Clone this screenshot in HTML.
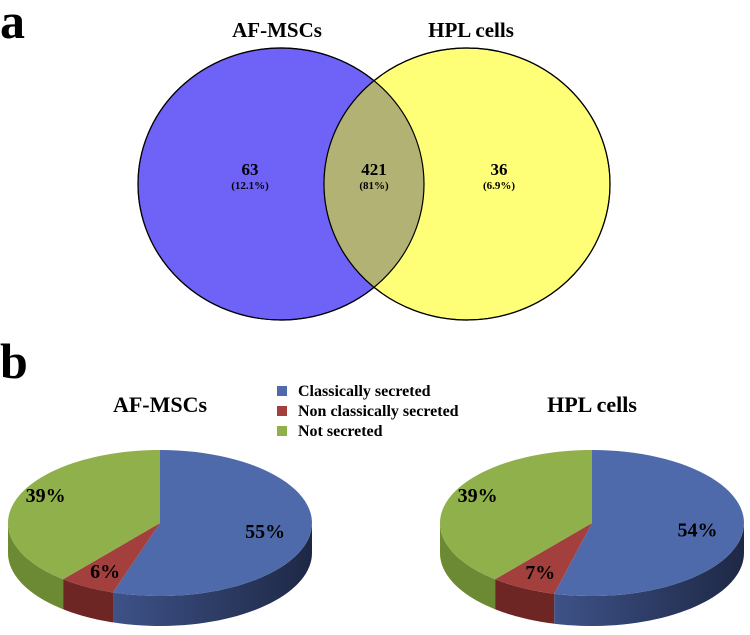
<!DOCTYPE html>
<html><head><meta charset="utf-8"><style>
body{margin:0;background:#fff}
svg{display:block;font-family:"Liberation Serif",serif;font-weight:bold}
</style></head><body>
<svg id="fig" width="750" height="635" viewBox="0 0 750 635">
<defs>
<linearGradient id="gb" x1="0" x2="1" y1="0" y2="0"><stop offset="0" stop-color="#3e5288"/><stop offset="1" stop-color="#1e2845"/></linearGradient>
</defs>
<text x="0" y="38" font-size="50">a</text>
<text x="0" y="378" font-size="50">b</text>
<g id="venn">
<ellipse cx="281" cy="184" rx="143" ry="136" fill="#6f62f7" stroke="#000" stroke-width="1.2"/>
<ellipse cx="467" cy="184" rx="143" ry="136" fill="#ffff77" stroke="#000" stroke-width="1.2"/>
<clipPath id="cl"><ellipse cx="281" cy="184" rx="143" ry="136"/></clipPath>
<ellipse cx="467" cy="184" rx="143" ry="136" fill="#b2b274" clip-path="url(#cl)"/>
<ellipse cx="281" cy="184" rx="143" ry="136" fill="none" stroke="#000" stroke-width="1.2"/>
<ellipse cx="467" cy="184" rx="143" ry="136" fill="none" stroke="#000" stroke-width="1.2"/>
<text x="277" y="37" font-size="21" text-anchor="middle">AF-MSCs</text>
<text x="471" y="37" font-size="21" text-anchor="middle">HPL cells</text>
</g>
<g id="legend"></g>
</svg>
<script>
const NS="http://www.w3.org/2000/svg";
const svg=document.getElementById('fig');
function mk(t,a,p){const e=document.createElementNS(NS,t);for(const k in a)e.setAttribute(k,a[k]);(p||svg).appendChild(e);return e;}
// Venn data
const vennCounts=["63","421","36"];
const vennPcts=["(12.1%)","(81%)","(6.9%)"];
const vennX=[250,374,499];
const venn=document.getElementById('venn');
for(let i=0;i<3;i++){
  const t=mk('text',{x:vennX[i],y:175,'font-size':17,'text-anchor':'middle'},venn);t.textContent=vennCounts[i];
  
  
  const p=mk('text',{x:vennX[i],y:189,'font-size':11,'text-anchor':'middle'},venn);p.textContent=vennPcts[i];
  
  
}
// Pie data
const categories=["Classically secreted","Non classically secreted","Not secreted"];
const afValues=[55,6,39];
const hplValues=[54,7,39];
const pieTitles=["AF-MSCs","HPL cells"];
const topCol=["#4f6aaa","#a3403e","#8fb04b"];
const sideCol=["url(#gb)","#6e2624","#6b8a33"];
// legend
const lg=document.getElementById('legend');
categories.forEach((c,i)=>{
  const r=mk('rect',{x:277,y:386+i*20,width:10,height:10,fill:topCol[i]},lg);
  
  
  const t=mk('text',{x:298,y:396+i*20,'font-size':16},lg);t.textContent=c;
  
  
});
function drawPie(vals,cx,cy,title,name){
  const g=mk('g',{});
  
  
  const rx=152,ry=73,d=30;
  const tt=mk('text',{x:cx,y:412,'font-size':22,'text-anchor':'middle'},g);tt.textContent=title;
  
  
  const tot=vals.reduce((a,b)=>a+b,0);
  const pt=(deg,dy)=>{const r=deg*Math.PI/180;return [cx+rx*Math.sin(r),cy-ry*Math.cos(r)+(dy||0)];};
  let a=0;const spans=[];
  vals.forEach(v=>{const b=a+v/tot*360;spans.push([a,b]);a=b;});
  // sides
  spans.forEach(([s,e],i)=>{
    const s2=Math.max(s,90),e2=Math.min(e,270);if(e2<=s2)return;
    let pts=[];for(let k=0;k<=40;k++)pts.push(pt(s2+(e2-s2)*k/40));
    for(let k=40;k>=0;k--)pts.push(pt(s2+(e2-s2)*k/40,d));
    const p=mk('polygon',{points:pts.map(q=>q.join(',')).join(' '),fill:sideCol[i]},g);
    
    
  });
  // tops
  spans.forEach(([s,e],i)=>{
    let pts=[[cx,cy]];for(let k=0;k<=60;k++)pts.push(pt(s+(e-s)*k/60));
    const p=mk('polygon',{points:pts.map(q=>q.join(',')).join(' '),fill:topCol[i]},g);
    
    
  });
  const fac=[0.7,0.75,0.8];
  spans.forEach(([s,e],i)=>{
    const m=(s+e)/2*Math.PI/180;
    const x=cx+rx*fac[i]*Math.sin(m), y=cy-ry*fac[i]*Math.cos(m)+7;
    const t=mk('text',{x:x,y:y+(i==2?-8:0),'font-size':20,'text-anchor':'middle'},g);t.textContent=vals[i]+'%';
    
    
  });
}
drawPie(afValues,160,523,pieTitles[0],'pie-af-mscs');
drawPie(hplValues,592,523,pieTitles[1],'pie-hpl-cells');
</script>
</body></html>
